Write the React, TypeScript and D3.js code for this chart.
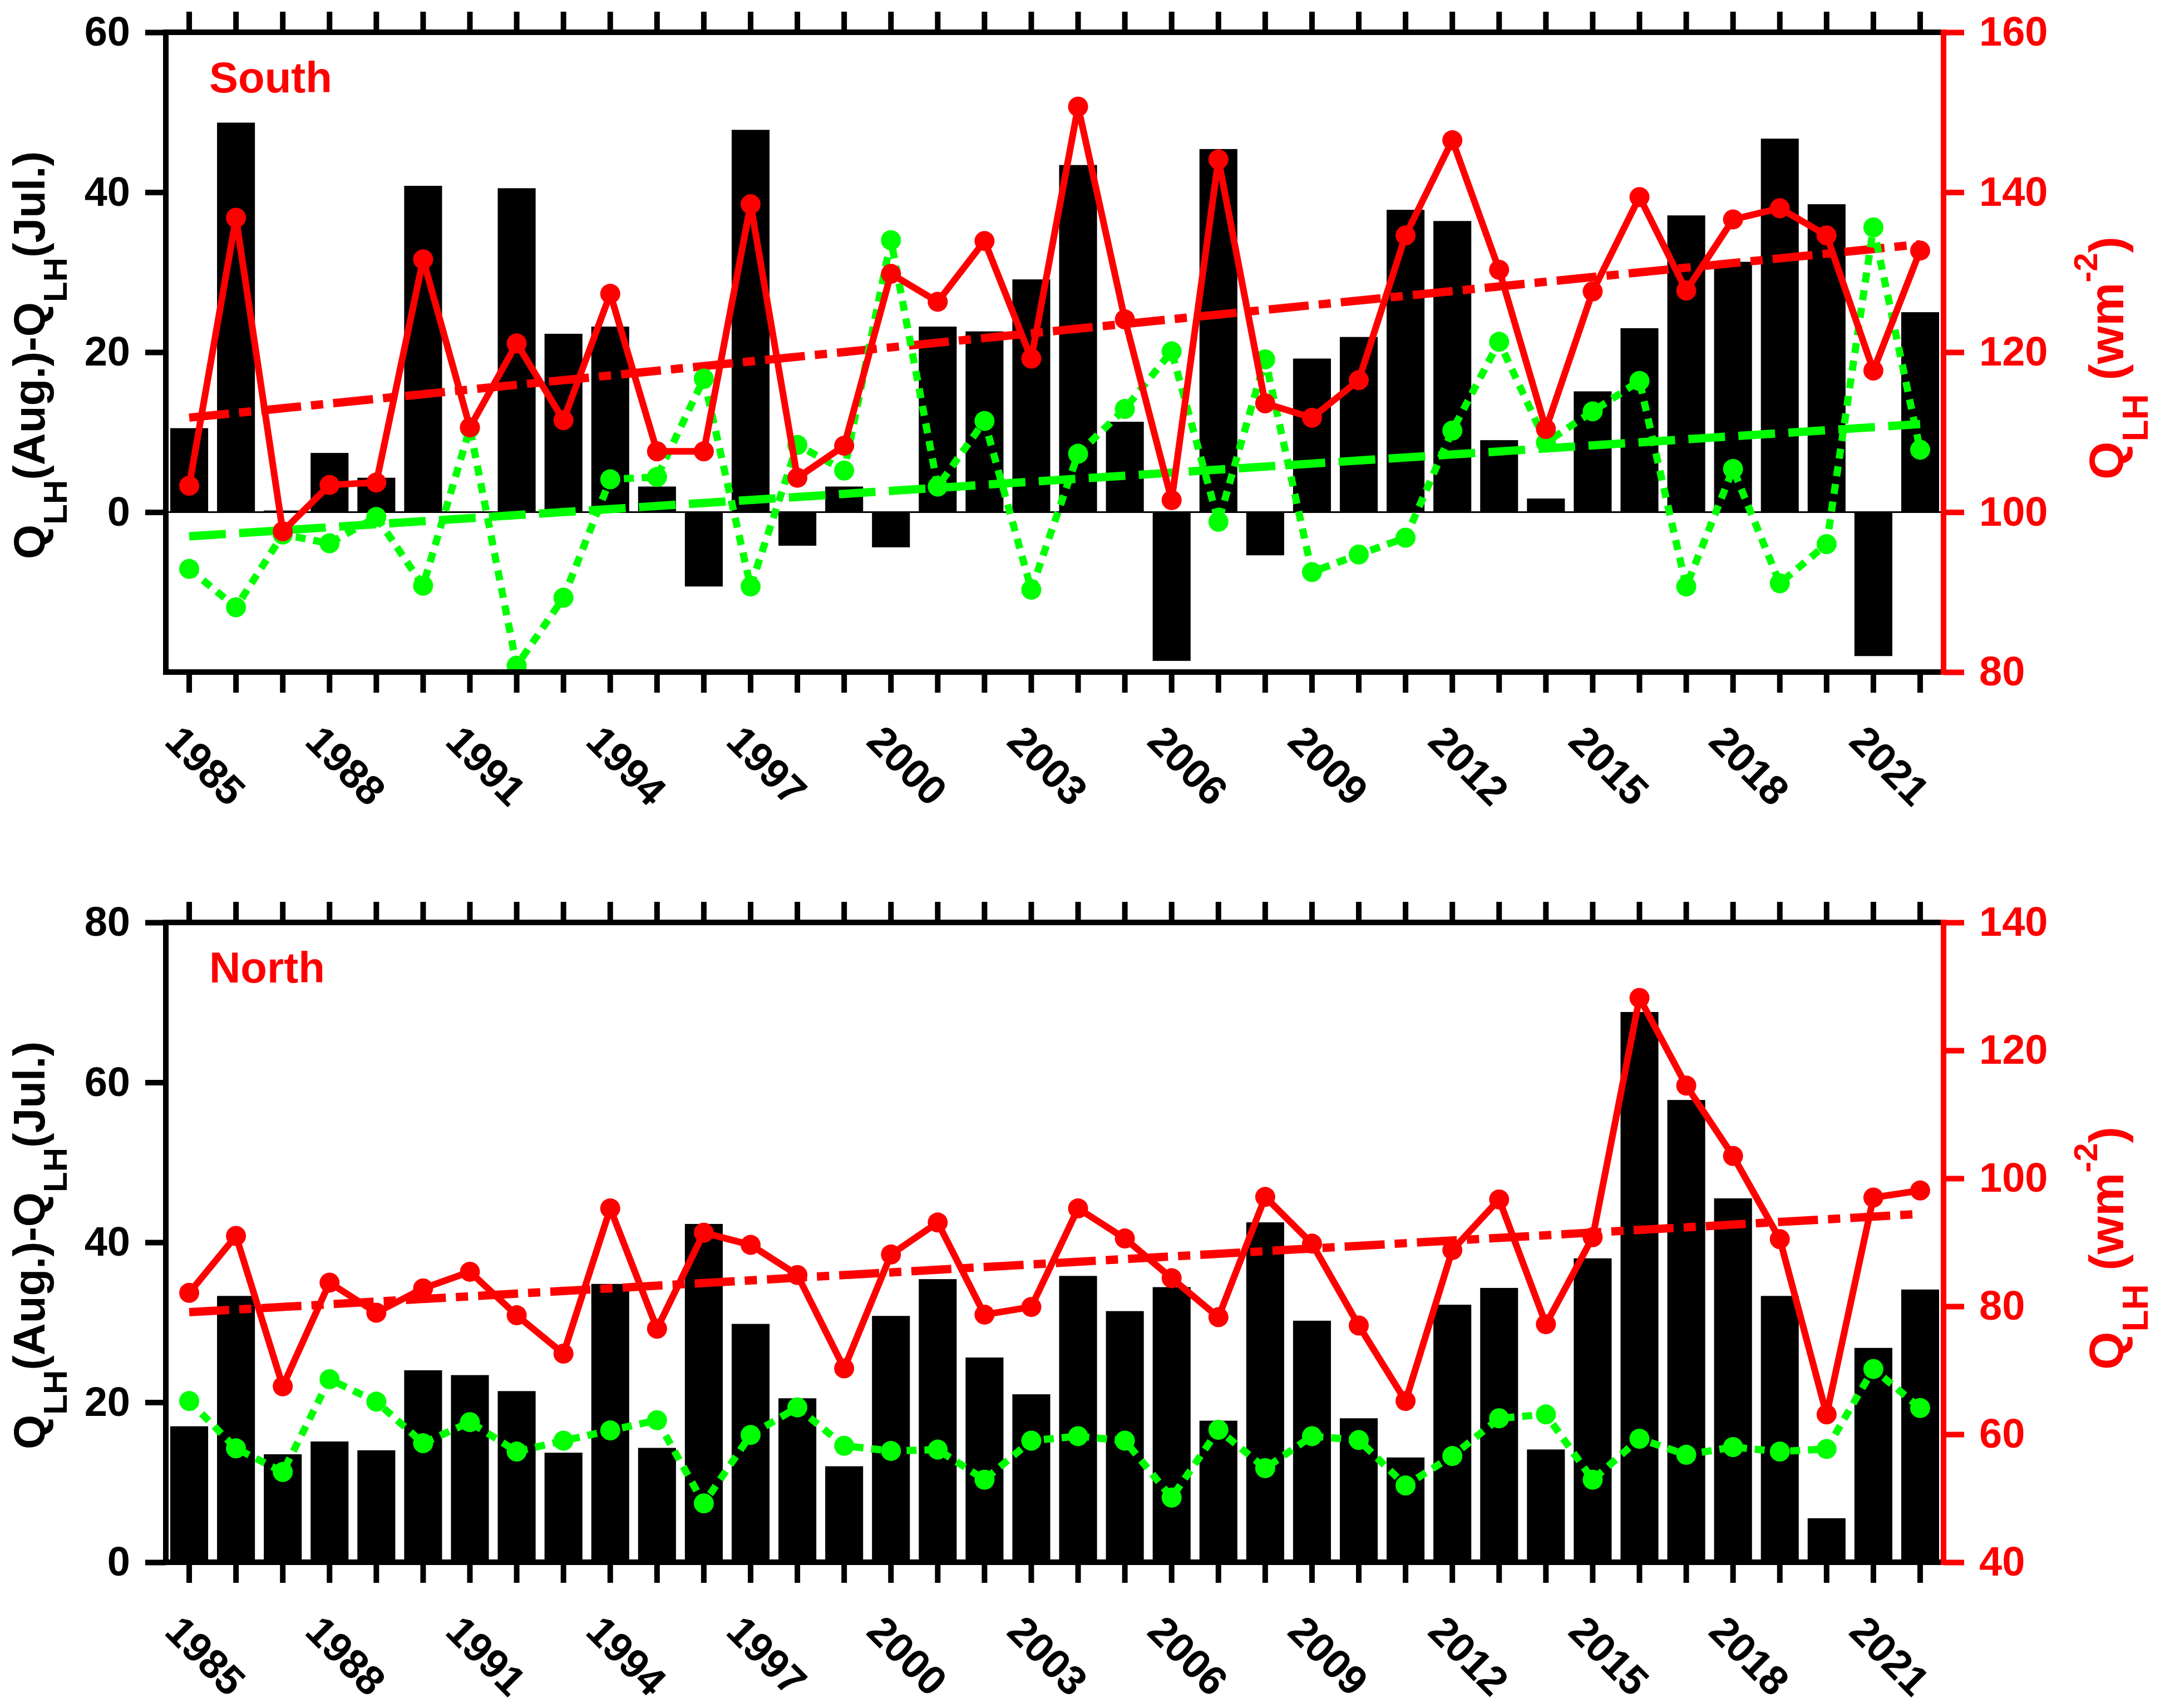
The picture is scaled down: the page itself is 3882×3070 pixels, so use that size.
import React, { useEffect, useRef } from "react";
import * as d3 from "d3";

const years = [
  1985, 1986, 1987, 1988, 1989, 1990, 1991, 1992, 1993, 1994, 1995, 1996, 1997,
  1998, 1999, 2000, 2001, 2002, 2003, 2004, 2005, 2006, 2007, 2008, 2009, 2010,
  2011, 2012, 2013, 2014, 2015, 2016, 2017, 2018, 2019, 2020, 2021, 2022,
];
const yearLabels = [1985, 1988, 1991, 1994, 1997, 2000, 2003, 2006, 2009, 2012, 2015, 2018, 2021];

// South: bars = Aug - Jul difference, red = Aug, green = Jul
const southDiff = [
  10.5, 48.7, 0.2, 7.4, 4.3, 40.8, -0.1, 40.5, 22.3, 23.2, 3.2, -9.3, 47.8,
  -4.2, 3.2, -4.4, 23.2, 22.6, 29.1, 43.4, 11.3, -18.6, 45.4, -5.4, 19.2, 21.9,
  37.8, 36.4, 9.0, 1.7, 15.1, 23.0, 37.1, 31.3, 46.7, 38.5, -18.0, 25.0,
];
const southAug = [
  103.3, 136.8, 97.6, 103.4, 103.7, 131.6, 110.6, 121.1, 111.5, 127.3, 107.6, 107.6, 138.5,
  104.3, 108.3, 129.8, 126.3, 133.9, 119.2, 150.7, 124.1, 101.5, 144.1, 113.6, 111.8, 116.5,
  134.6, 146.5, 130.3, 110.4, 127.6, 139.4, 127.7, 136.6, 138.0, 134.6, 117.7, 132.7,
];
const southJul = [
  92.9, 88.1, 97.2, 96.1, 99.4, 90.8, 110.5, 80.8, 89.3, 104.1, 104.4, 116.7, 90.7,
  108.4, 105.2, 134.0, 103.2, 111.4, 90.3, 107.3, 112.9, 120.1, 98.8, 119.1, 92.5, 94.7,
  96.8, 110.2, 121.3, 108.7, 112.6, 116.4, 90.7, 105.4, 91.1, 96.0, 135.6, 107.8,
];

// North
const northDiff = [
  17.0, 33.3, 13.5, 15.1, 14.0, 24.0, 23.4, 21.4, 13.7, 34.8, 14.3, 42.3, 29.8,
  20.5, 12.0, 30.8, 35.4, 25.6, 21.0, 35.8, 31.4, 34.4, 17.7, 42.5, 30.2, 18.0,
  13.1, 32.2, 34.3, 14.1, 38.0, 68.8, 57.8, 45.5, 33.3, 5.5, 26.8, 34.1,
];
const northAug = [
  82.1, 91.0, 67.5, 83.7, 79.0, 82.8, 85.4, 78.6, 72.6, 95.3, 76.5, 91.5, 89.6,
  84.9, 70.3, 88.1, 93.1, 78.7, 79.9, 95.3, 90.6, 84.4, 78.3, 97.1, 89.8, 77.0,
  65.2, 88.8, 96.7, 77.2, 90.8, 128.2, 114.5, 103.5, 90.5, 63.1, 97.0, 98.1,
];
const northJul = [
  65.2, 57.8, 54.1, 68.6, 65.1, 58.6, 61.9, 57.3, 59.0, 60.6, 62.2, 49.2, 59.9,
  64.2, 58.2, 57.4, 57.6, 52.9, 59.0, 59.7, 59.0, 50.1, 60.7, 54.7, 59.7, 59.1,
  52.0, 56.6, 62.5, 63.1, 52.9, 59.3, 56.8, 58.0, 57.3, 57.7, 70.2, 64.1,
];

const southLeftTicks = [0, 20, 40, 60];
const southRightTicks = [80, 100, 120, 140, 160];
const northLeftTicks = [0, 20, 40, 60, 80];
const northRightTicks = [40, 60, 80, 100, 120, 140];

const W = 3882;
const H = 3070;
const X0 = 298;
const X1 = 3493;
const FONT = "'Liberation Sans', Arial, Helvetica, sans-serif";
const RED = "#ff0000";
const GREEN = "#00ff00";

type Panel = {
  name: string;
  top: number;
  bottom: number;
  diff: number[];
  aug: number[];
  jul: number[];
  leftDomain: [number, number];
  rightDomain: [number, number];
  leftTicks: number[];
  rightTicks: number[];
  julTrend: boolean;
};

const panels: Panel[] = [
  {
    name: "South", top: 58, bottom: 1208, diff: southDiff, aug: southAug, jul: southJul,
    leftDomain: [-20, 60], rightDomain: [80, 160], leftTicks: southLeftTicks, rightTicks: southRightTicks,
    julTrend: true,
  },
  {
    name: "North", top: 1658, bottom: 2808, diff: northDiff, aug: northAug, jul: northJul,
    leftDomain: [0, 80], rightDomain: [40, 140], leftTicks: northLeftTicks, rightTicks: northRightTicks,
    julTrend: false,
  },
];

// least squares fit
function linreg(xs: number[], ys: number[]) {
  const mx = d3.mean(xs)!;
  const my = d3.mean(ys)!;
  let num = 0;
  let den = 0;
  xs.forEach((x, i) => {
    num += (x - mx) * (ys[i] - my);
    den += (x - mx) * (x - mx);
  });
  const b = num / den;
  return (x: number) => my + b * (x - mx);
}

const App: React.FC = () => {
  const svgRef = useRef<SVGSVGElement | null>(null);

  useEffect(() => {
    document.body.style.margin = "0";
    if (!svgRef.current) return;
    const svg = d3.select(svgRef.current);
    svg.selectAll("*").remove();
    svg.attr("width", W).attr("height", H).style("display", "block");
    svg.append("rect").attr("width", W).attr("height", H).attr("fill", "#fff");

    const x = d3.scaleBand<number>()
      .domain(years)
      .range([X0, X1])
      .paddingInner(0.19)
      .paddingOuter(0.095);
    const cx = (yr: number) => x(yr)! + x.bandwidth() / 2;

    panels.forEach((p) => {
      const yL = d3.scaleLinear().domain(p.leftDomain).range([p.bottom, p.top]);
      const yR = d3.scaleLinear().domain(p.rightDomain).range([p.bottom, p.top]);
      const g = svg.append("g");

      // bars
      g.selectAll("rect.bar")
        .data(p.diff)
        .enter()
        .append("rect")
        .attr("class", "bar")
        .attr("x", (_, i) => x(years[i])!)
        .attr("width", x.bandwidth())
        .attr("y", (d) => Math.min(yL(d), yL(0)))
        .attr("height", (d) => Math.abs(yL(d) - yL(0)))
        .attr("fill", "#000");

      if (p.leftDomain[0] < 0) {
        g.append("line")
          .attr("x1", X0).attr("x2", X1)
          .attr("y1", yL(0)).attr("y2", yL(0))
          .attr("stroke", "#000").attr("stroke-width", 3);
      }

      // trend lines
      const first = years[0];
      const last = years[years.length - 1];
      const augFit = linreg(years, p.aug);
      g.append("line")
        .attr("x1", cx(first)).attr("y1", yR(augFit(first)))
        .attr("x2", cx(last)).attr("y2", yR(augFit(last)))
        .attr("stroke", RED).attr("stroke-width", 15)
        .attr("stroke-dasharray", "72 18 22 18");
      if (p.julTrend) {
        const julFit = linreg(years, p.jul);
        g.append("line")
          .attr("x1", cx(first)).attr("y1", yR(julFit(first)))
          .attr("x2", cx(last)).attr("y2", yR(julFit(last)))
          .attr("stroke", GREEN).attr("stroke-width", 15)
          .attr("stroke-dasharray", "66 24");
      }

      const line = d3.line<number>()
        .x((_, i) => cx(years[i]))
        .y((d) => yR(d));

      // July (green dotted)
      g.append("path")
        .attr("d", line(p.jul)!)
        .attr("fill", "none").attr("stroke", GREEN)
        .attr("stroke-width", 13).attr("stroke-dasharray", "18 14");
      g.selectAll("circle.jul")
        .data(p.jul)
        .enter()
        .append("circle")
        .attr("class", "jul")
        .attr("cx", (_, i) => cx(years[i]))
        .attr("cy", (d) => yR(d))
        .attr("r", 18)
        .attr("fill", GREEN);

      // August (red solid)
      g.append("path")
        .attr("d", line(p.aug)!)
        .attr("fill", "none").attr("stroke", RED)
        .attr("stroke-width", 12).attr("stroke-linejoin", "round");
      g.selectAll("circle.aug")
        .data(p.aug)
        .enter()
        .append("circle")
        .attr("class", "aug")
        .attr("cx", (_, i) => cx(years[i]))
        .attr("cy", (d) => yR(d))
        .attr("r", 18)
        .attr("fill", RED);

      // axes
      const styleAxis = (ag: d3.Selection<SVGGElement, unknown, null, undefined>, color: string) => {
        ag.select(".domain").remove();
        ag.selectAll(".tick line").attr("stroke", color).attr("stroke-width", 10);
        ag.selectAll(".tick text")
          .attr("fill", color)
          .attr("font-family", FONT)
          .attr("font-weight", "bold")
          .attr("font-size", 74);
      };

      const left = g.append("g").attr("transform", `translate(${X0},0)`)
        .call(d3.axisLeft(yL).tickValues(p.leftTicks).tickSize(37).tickPadding(27).tickSizeOuter(0));
      styleAxis(left, "#000");

      const right = g.append("g").attr("transform", `translate(${X1},0)`)
        .call(d3.axisRight(yR).tickValues(p.rightTicks).tickSize(37).tickPadding(27).tickSizeOuter(0));
      styleAxis(right, RED);

      const bottomAx = g.append("g").attr("transform", `translate(0,${p.bottom})`)
        .call(d3.axisBottom(x).tickSize(37).tickFormat(() => "").tickSizeOuter(0));
      styleAxis(bottomAx, "#000");

      const topAx = g.append("g").attr("transform", `translate(0,${p.top})`)
        .call(d3.axisTop(x).tickSize(37).tickFormat(() => "").tickSizeOuter(0));
      styleAxis(topAx, "#000");

      // frame
      g.append("line").attr("x1", X0).attr("x2", X0).attr("y1", p.top - 5).attr("y2", p.bottom + 5)
        .attr("stroke", "#000").attr("stroke-width", 10);
      g.append("line").attr("x1", X0 - 5).attr("x2", X1).attr("y1", p.top).attr("y2", p.top)
        .attr("stroke", "#000").attr("stroke-width", 10);
      g.append("line").attr("x1", X0 - 5).attr("x2", X1).attr("y1", p.bottom).attr("y2", p.bottom)
        .attr("stroke", "#000").attr("stroke-width", 10);
      g.append("line").attr("x1", X1).attr("x2", X1).attr("y1", p.top - 5).attr("y2", p.bottom + 5)
        .attr("stroke", RED).attr("stroke-width", 10);

      // year labels
      g.selectAll("text.year")
        .data(yearLabels)
        .enter()
        .append("text")
        .attr("class", "year")
        .attr("transform", (d) => `translate(${cx(d) - 47},${p.bottom + 128}) rotate(45)`)
        .attr("font-family", FONT)
        .attr("font-weight", "bold")
        .attr("font-size", 74)
        .attr("fill", "#000")
        .text((d) => d);

      // panel name
      g.append("text")
        .attr("x", 376).attr("y", p.top + 108)
        .attr("font-family", FONT).attr("font-weight", "bold").attr("font-size", 78)
        .attr("fill", RED)
        .text(p.name);

      const cy = (p.top + p.bottom) / 2;

      // left title
      const lt = g.append("text")
        .attr("transform", `translate(80,${cy + 372}) rotate(-90)`)
        .attr("text-anchor", "start")
        .attr("font-family", FONT).attr("font-weight", "bold").attr("font-size", 80)
        .attr("fill", "#000");
      lt.append("tspan").text("Q");
      lt.append("tspan").attr("font-size", 60).attr("dy", 40).text("LH");
      lt.append("tspan").attr("dy", -40).text("(Aug.)-Q");
      lt.append("tspan").attr("font-size", 60).attr("dy", 40).text("LH");
      lt.append("tspan").attr("dy", -40).text("(Jul.)");

      // right title
      const rt = g.append("text")
        .attr("transform", `translate(3816,${cy + 229}) rotate(-90)`)
        .attr("text-anchor", "start")
        .attr("font-family", FONT).attr("font-weight", "bold").attr("font-size", 88)
        .attr("fill", RED);
      rt.append("tspan").text("Q");
      rt.append("tspan").attr("font-size", 64).attr("dy", 44).text("LH");
      rt.append("tspan").attr("dy", -44).text(" (wm");
      rt.append("tspan").attr("font-size", 60).attr("dy", -47).text("-2");
      rt.append("tspan").attr("dy", 47).text(")");
    });
  }, []);

  return <svg ref={svgRef}></svg>;
};

export default App;
